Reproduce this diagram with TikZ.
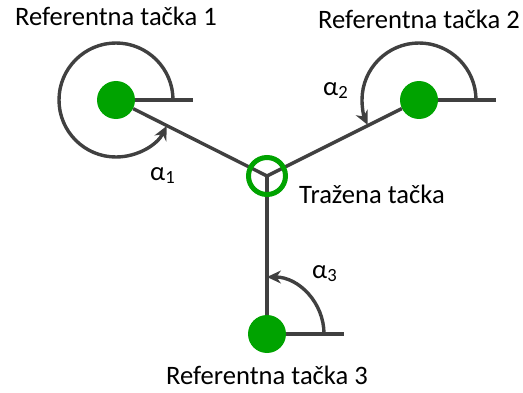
\documentclass[tikz,border=0pt]{standalone}
\usepackage{fontspec}
\setmainfont{Carlito}
\usetikzlibrary{positioning,arrows.meta}
\definecolor{dotgreen}{RGB}{0,163,0}
\definecolor{linegray}{RGB}{64,64,64}

\begin{document}
\begin{tikzpicture}[x=1pt, y=1pt, node distance=50pt,
        ref/.style={circle, fill=dotgreen, minimum size=38pt, inner sep=0pt},
        target/.style={circle, draw=dotgreen, line width=5pt, minimum size=37pt, inner sep=0pt},
        line/.style={draw=linegray, line width=3.4pt},
        angle/.style={line, -{Stealth[length=14pt, width=13pt]}},
        txt/.style={font=\fontsize{26.6}{30}\selectfont, text=black, inner sep=0pt}]

    \useasboundingbox (0,0) rectangle (523,392);

    \node[ref] (r1) at (116,292) {};
    \node[ref] (r2) at (419,292) {};
    \node[ref] (r3) at (267,58) {};
    \coordinate (c) at (267,216);

    \coordinate[right=58pt of r1] (h1);
    \coordinate[right=58pt of r2] (h2);
    \coordinate[right=58pt of r3] (h3);

    \draw[line] (r1) -- (c);
    \draw[line] (r2) -- (c);
    \draw[line] (r3) -- (c);
    \draw[line] (r1) -- (h1);
    \draw[line] (r2) -- (h2);
    \draw[line] (r3) -- (h3);

    \node[target] (t) at (c) {};

    % angles
    \draw[angle] ([xshift=57pt]r1.center) arc[start angle=0, end angle=333, radius=57pt];
    \draw[angle] ([xshift=57pt]r2.center) arc[start angle=0, end angle=206, radius=57pt];
    \draw[angle] ([xshift=57pt]r3.center) arc[start angle=0, end angle=90, radius=57pt];

    \node[txt, above=55pt of r1, anchor=base] (n1) {Referentna tačka 1};
    \node[txt, above=52pt of r2, anchor=base] (n2) {Referentna tačka 2};
    \node[txt, below=13pt of r3] (n3) {Referentna tačka 3};
    \node[txt, anchor=base west] (nt) at (299,189) {Tražena tačka};

    \node[txt, anchor=base west] (a1) at (150,212) {α\textsubscript{1}};
    \node[txt, anchor=base west] (a2) at (323,297) {α\textsubscript{2}};
    \node[txt, anchor=base west] (a3) at (312,114) {α\textsubscript{3}};
\end{tikzpicture}
\end{document}
